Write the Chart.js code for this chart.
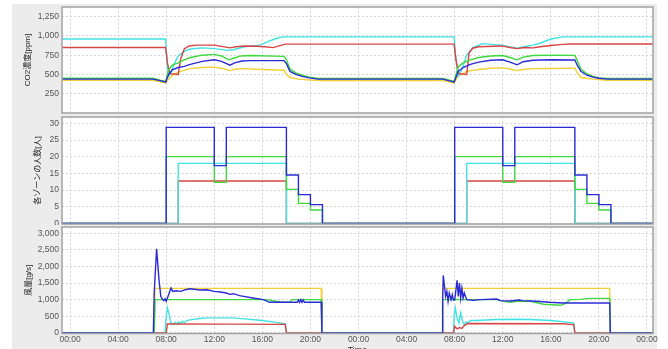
<!DOCTYPE html>
<html>
<head>
<meta charset="utf-8">
<script src="https://cdn.jsdelivr.net/npm/chart.js@4"></script>
<style>
  html, body { margin: 0; padding: 0; background: #fff; overflow: hidden; }
  #wrap { position: relative; width: 668px; height: 349px; overflow: hidden; }
  #panel { position: absolute; left: 12px; top: 4px; width: 645px; height: 345px; background: #ececec; }
  canvas { position: absolute; left: 0; }
</style>
</head>
<body>
<div id="wrap">
  <div id="panel"></div>
  <canvas id="co2Chart" width="668" height="115" style="top:0"></canvas>
  <canvas id="occChart" width="668" height="110" style="top:115px"></canvas>
  <canvas id="flowChart" width="668" height="135" style="top:225px"></canvas>
</div>
<script>
// time axis (hours from 00:00 of day 1)
const xTicks = [0, 4, 8, 12, 16, 20, 24, 28, 32, 36, 40, 44, 48];
const co2Ticks = [250, 500, 750, 1000, 1250];
const occTicks = [0, 5, 10, 15, 20, 25, 30];
const flowTicks = [0, 500, 1000, 1500, 2000, 2500, 3000];

// CO2 concentration [ppm], [hour, value]
const co2Cyan = [[-0.7,960],[7.95,960],[8.1,600],[8.2,480],[8.4,520],[8.7,650],[9.0,740],[9.5,800],[10,830],[11,845],[12,835],[12.5,825],[13.2,812],[13.6,820],[14.5,860],[15,868],[15.8,880],[16.5,930],[17.2,970],[17.7,987],[31.95,987],[32.1,700],[32.3,480],[32.6,560],[33.0,750],[33.5,850],[34.0,880],[34.3,900],[35.9,880],[36.5,860],[37.2,840],[37.8,860],[38.5,880],[39.1,905],[40.0,960],[41.0,987],[48.6,987]];
const co2Red = [[-0.7,850],[7.95,850],[8.1,650],[8.3,510],[9.0,500],[9.2,700],[9.5,830],[9.9,870],[10.5,880],[12.0,880],[12.6,865],[13.3,845],[13.8,860],[14.5,870],[15.5,865],[16.2,860],[16.9,848],[17.9,893],[31.95,893],[32.1,700],[32.3,520],[32.5,505],[33.0,500],[33.2,780],[33.5,840],[34.0,860],[35.9,870],[36.6,850],[37.2,835],[37.8,850],[38.5,845],[39.1,860],[40,875],[41,890],[41.6,895],[48.6,895]];
const co2Green = [[-0.7,450],[6.9,450],[7.5,425],[7.95,410],[8.2,560],[8.5,620],[9.0,650],[9.5,690],[10,720],[11,750],[12,760],[12.6,740],[13.2,690],[13.6,710],[14.2,740],[15,745],[17.8,735],[18.0,690],[18.3,570],[18.8,520],[19.3,490],[19.9,465],[20.6,448],[31.0,448],[31.5,430],[31.95,410],[32.3,600],[32.7,650],[33.3,690],[34.0,720],[35.0,740],[36.0,745],[36.6,720],[37.2,690],[37.7,725],[38.5,745],[40,750],[42.0,748],[42.2,680],[42.5,570],[43,510],[43.5,475],[44.0,455],[44.7,447],[48.6,447]];
const co2Blue = [[-0.7,440],[6.9,440],[7.5,420],[7.95,400],[8.2,500],[8.5,560],[9.0,590],[9.5,605],[10,630],[11,670],[12,690],[12.6,670],[13.3,620],[13.7,650],[14.3,675],[15,680],[17.8,680],[18.0,640],[18.3,540],[18.8,500],[19.3,475],[19.9,455],[20.6,440],[31.0,440],[31.5,420],[31.95,400],[32.3,540],[32.7,590],[33.3,630],[34.0,660],[35,685],[36.0,690],[36.6,660],[37.2,625],[37.7,665],[38.5,685],[40,690],[42.0,688],[42.2,620],[42.5,540],[43,490],[43.5,465],[44.0,450],[44.7,440],[48.6,440]];
const co2Yellow = [[-0.7,425],[6.9,425],[7.5,405],[7.95,390],[8.2,440],[8.6,500],[9.2,540],[10,575],[11,590],[12,595],[12.6,580],[13.3,550],[13.8,570],[14.5,575],[16,565],[17.8,555],[18.0,500],[18.3,460],[19,440],[20,428],[21,422],[31.0,422],[31.5,405],[31.95,390],[32.3,480],[33,540],[34.0,565],[35,580],[36.0,585],[36.6,570],[37.2,550],[37.7,565],[38.5,575],[40,578],[42.0,582],[42.2,520],[42.5,460],[43.5,440],[44.7,425],[48.6,425]];

// occupants per zone [persons], [hour, value from this hour on]
const occBlue = [[-0.7,0],[8,28.8],[12,17.3],[13,28.8],[18,14.5],[19,8.6],[20,5.6],[21,0],[32,28.8],[36,17.3],[37,28.8],[42,14.5],[43,8.6],[44,5.6],[45,0],[48.6,0]];
const occGreen = [[-0.7,0],[8,20],[12,12.3],[13,20],[18,10.2],[19,6],[20,4],[21,0],[32,20],[36,12.3],[37,20],[42,10.2],[43,6],[44,4],[45,0],[48.6,0]];
const occCyan = [[-0.7,0],[9,18],[18,0],[33,18],[42,0],[48.6,0]];
const occRed = [[-0.7,0],[9,12.7],[18,0],[33,12.7],[42,0],[48.6,0]];

// air flow [g/s], [hour, value]
const flowYellow = [[-0.7,0],[7.0,0],[7.07,1340],[20.9,1340],[20.95,0],[30.95,0],[31.0,1340],[44.9,1340],[44.95,0],[48.6,0]];
const flowGreen = [[-0.7,0],[7.0,0],[7.07,1000],[16.4,1000],[17.0,960],[17.5,930],[18.3,920],[18.45,1000],[20.9,1000],[20.95,0],[30.95,0],[31.0,1000],[32,1010],[33,1000],[35.5,1000],[36.2,940],[36.6,920],[37.2,950],[38.3,950],[39.4,860],[40.8,830],[41.2,880],[41.6,1000],[42.5,1010],[43.0,1030],[43.4,1040],[44.9,1040],[44.95,0],[48.6,0]];
const flowBlue = [[-0.7,0],[6.93,0],[7.0,1200],[7.2,2530],[7.4,1600],[7.55,1100],[7.7,1000],[7.8,970],[7.9,1030],[8.0,950],[8.2,1150],[8.4,1350],[8.55,1250],[8.8,1270],[9.2,1250],[9.6,1300],[10.0,1330],[10.8,1290],[11.4,1300],[12.0,1250],[12.5,1230],[13.0,1200],[13.3,1160],[13.6,1180],[14.1,1120],[15.2,1050],[16.1,1000],[16.6,920],[18.9,920],[19.0,990],[19.1,920],[19.2,1000],[19.3,920],[19.4,990],[19.5,920],[20.9,920],[20.95,0],[30.95,0],[31.0,1000],[31.05,1730],[31.25,1100],[31.35,1250],[31.45,950],[31.55,1200],[31.7,1000],[31.8,1150],[31.9,990],[32.0,990],[32.2,1580],[32.3,1100],[32.4,1500],[32.5,1050],[32.6,1350],[32.7,1050],[32.8,1200],[33.0,1000],[33.5,980],[34.1,1000],[35.5,1020],[35.8,970],[36.6,960],[37.4,990],[37.6,970],[38.3,960],[38.8,950],[39.9,920],[41.0,900],[44.9,900],[44.95,0],[48.6,0]];
const flowCyan = [[-0.7,0],[7.9,0],[8.0,500],[8.1,750],[8.25,550],[8.4,300],[8.6,250],[8.75,320],[8.9,260],[9.05,330],[9.2,280],[9.35,350],[9.5,300],[9.7,370],[10,390],[10.8,430],[11.4,450],[13.5,450],[14.5,420],[15.8,380],[16.9,330],[17.9,270],[18.0,0],[31.9,0],[31.95,500],[32.05,750],[32.2,450],[32.35,300],[32.5,600],[32.65,350],[32.8,250],[32.95,330],[33.1,300],[33.3,370],[33.8,370],[35.5,400],[37,410],[38.3,400],[40,370],[41.9,300],[42.0,0],[48.6,0]];
const flowRed = [[-0.7,0],[8.0,0],[8.1,270],[17.9,255],[18.0,0],[31.9,0],[32.0,200],[32.2,120],[32.4,160],[32.6,130],[32.8,220],[33.1,280],[41.0,275],[41.9,250],[42.0,0],[48.6,0]];

const BLUE = '#2b2bd6', GREEN = '#3fd83f', RED = '#d84444', CYAN = '#3fe3e3', YELLOW = '#f4cf35';

const frame = {
    id: 'frame',
    beforeDraw(chart) {
        const { ctx, chartArea: a } = chart;
        ctx.save();
        ctx.fillStyle = '#ffffff';
        ctx.fillRect(a.left, a.top, a.width, a.height);
        ctx.restore();
    },
    afterDraw(chart) {
        const { ctx, chartArea: a } = chart;
        ctx.save();
        ctx.strokeStyle = '#a2a2a2';
        ctx.lineWidth = 1.5;
        ctx.strokeRect(a.left, a.top, a.width, a.height);
        ctx.restore();
    }
};

const tickFont = { family: '"Liberation Sans", Arial, sans-serif', size: 8.5 };
const titleFont = { family: '"Liberation Sans", "Noto Sans CJK JP", sans-serif', size: 8 };

function line(data, color, stepped) {
    return {
        data: data.map(p => ({ x: p[0], y: p[1] })),
        borderColor: color,
        borderWidth: 1.4,
        pointRadius: 0,
        fill: false,
        tension: 0,
        stepped: stepped || false
    };
}

// no label overflow padding, so the plot areas sit exactly where the layout padding puts them
function noPad(s) {
    s.paddingTop = 0; s.paddingBottom = 0; s.paddingLeft = 0; s.paddingRight = 0;
}

function makeChart(id, datasets, yOpts, showTime) {
    const xAxis = {
        type: 'linear',
        min: -0.67,
        max: 48.5,
        border: { display: false, dash: [2, 2] },
        grid: { color: '#d6d6d6', lineWidth: 1, drawTicks: false },
        afterBuildTicks: s => { s.ticks = xTicks.map(v => ({ value: v })); },
        afterFit: s => { s.height = showTime ? 26.5 : 0; noPad(s); },
        ticks: {
            display: showTime,
            padding: 1,
            maxRotation: 0,
            color: '#555',
            font: tickFont,
            callback: v => String(v % 24).padStart(2, '0') + ':00'
        },
        title: {
            display: showTime,
            text: 'Time',
            color: '#333',
            font: { family: '"Liberation Sans", Arial, sans-serif', size: 9 },
            padding: { top: 0, bottom: 4 }
        }
    };
    const yAxis = {
        type: 'linear',
        min: yOpts.min,
        max: yOpts.max,
        border: { display: false, dash: [2, 2] },
        grid: { color: '#d6d6d6', lineWidth: 1, drawTicks: false },
        afterBuildTicks: s => { s.ticks = yOpts.ticks.map(v => ({ value: v })); },
        afterFit: s => { s.width = 62; noPad(s); },
        ticks: {
            padding: 3,
            color: '#555',
            font: tickFont,
            callback: v => v.toLocaleString('en-US')
        },
        title: {
            display: true,
            text: yOpts.title,
            color: '#222',
            font: titleFont,
            padding: { top: yOpts.titlePad, bottom: 0 }
        }
    };

    return new Chart(document.getElementById(id), {
        type: 'line',
        data: { datasets: datasets },
        options: {
            responsive: false,
            animation: false,
            events: [],
            layout: { padding: yOpts.padding },
            plugins: { legend: { display: false }, tooltip: { enabled: false } },
            scales: { x: xAxis, y: yAxis }
        },
        plugins: [frame]
    });
}

makeChart('co2Chart', [
    line(co2Blue, BLUE),
    line(co2Green, GREEN),
    line(co2Red, RED),
    line(co2Cyan, CYAN),
    line(co2Yellow, YELLOW)
], { min: 0, max: 1375, ticks: co2Ticks, title: 'CO2濃度[ppm]', titlePad: 23,
     padding: { left: 0, right: 15, top: 7, bottom: 2 } }, false);

makeChart('occChart', [
    line(occBlue, BLUE, true),
    line(occGreen, GREEN, true),
    line(occCyan, CYAN, true),
    line(occRed, RED, true)
], { min: -0.2, max: 31.9, ticks: occTicks, title: '各ゾーンの人数[人]', titlePad: 33,
     padding: { left: 0, right: 15, top: 2, bottom: 1 } }, false);

makeChart('flowChart', [
    line(flowBlue, BLUE),
    line(flowGreen, GREEN),
    line(flowRed, RED),
    line(flowCyan, CYAN),
    line(flowYellow, YELLOW)
], { min: -20, max: 3190, ticks: flowTicks, title: '風量[g/s]', titlePad: 23.5,
     padding: { left: 0, right: 15, top: 2, bottom: 0 } }, true);
</script>
</body>
</html>
